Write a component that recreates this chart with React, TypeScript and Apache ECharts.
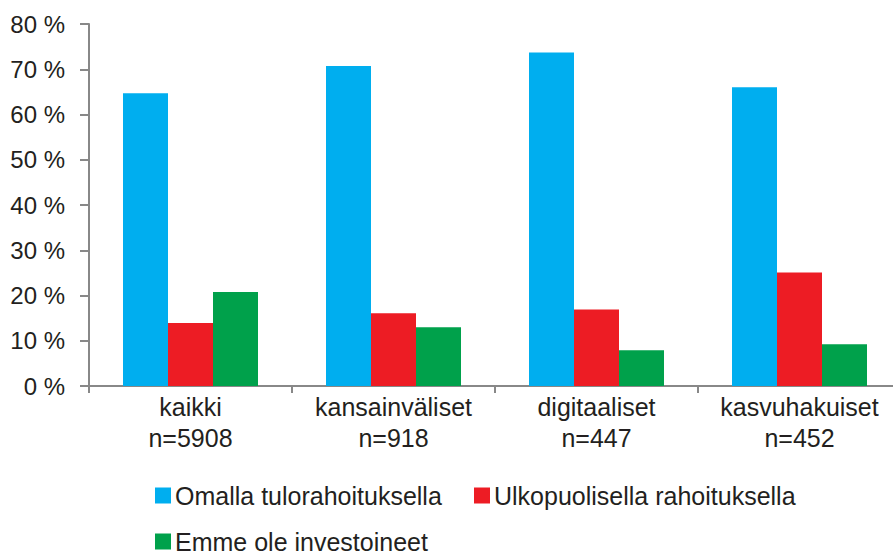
import React, { useEffect, useRef } from "react";
import * as echarts from "echarts";

const categories = ["kaikki\nn=5908", "kansainväliset\nn=918", "digitaaliset\nn=447", "kasvuhakuiset\nn=452"];
const seriesNames = ["Omalla tulorahoituksella", "Ulkopuolisella rahoituksella", "Emme ole investoineet"];
const omalla = [64.7, 70.7, 73.7, 66.0];
const ulkopuolisella = [13.9, 16.1, 16.9, 25.1];
const emme = [20.8, 13.0, 7.9, 9.2];
const colors = ["#00AEEF", "#ED1C24", "#00A14B"];

const FONT = "'Liberation Sans', Arial, sans-serif";
const TEXT = "#231F20";

export default function App() {
  const ref = useRef<HTMLDivElement>(null);
  useEffect(() => {
    if (!ref.current) return;
    const chart = echarts.init(ref.current, undefined, { renderer: "svg" });
    const legendBase = {
      orient: "horizontal" as const,
      icon: "rect",
      itemWidth: 16,
      itemHeight: 16,
      itemGap: 0,
      padding: 0,
      textStyle: { fontFamily: FONT, fontSize: 25, color: TEXT, padding: [0, 0, 0, -1] },
    };
    chart.setOption({
      animation: false,
      textStyle: { fontFamily: FONT },
      grid: { left: 89, top: 24, width: 812, height: 362, containLabel: false, outerBoundsMode: "none" },
      legend: [
        { ...legendBase, left: 155, top: 483, data: [seriesNames[0]] },
        { ...legendBase, left: 474, top: 483, data: [seriesNames[1]] },
        { ...legendBase, left: 155, top: 529, data: [seriesNames[2]] },
      ],
      xAxis: {
        type: "category",
        data: categories,
        axisLine: { lineStyle: { color: "#888888", width: 2 } },
        axisTick: { show: true, length: 7, lineStyle: { color: "#888888", width: 2 } },
        axisLabel: {
          fontFamily: FONT,
          fontSize: 25,
          color: TEXT,
          lineHeight: 31,
          margin: 5,
          interval: 0,
        },
      },
      yAxis: {
        type: "value",
        min: 0,
        max: 80,
        interval: 10,
        splitLine: { show: false },
        axisLine: { show: true, lineStyle: { color: "#888888", width: 2 } },
        axisTick: { show: true, length: 9, lineStyle: { color: "#888888", width: 2 } },
        axisLabel: {
          fontFamily: FONT,
          fontSize: 24,
          color: TEXT,
          margin: 24,
          formatter: "{value} %",
        },
      },
      series: [
        { name: seriesNames[0], type: "bar", data: omalla, barWidth: 45, barGap: "0%", itemStyle: { color: colors[0] } },
        { name: seriesNames[1], type: "bar", data: ulkopuolisella, barWidth: 45, barGap: "0%", itemStyle: { color: colors[1] } },
        { name: seriesNames[2], type: "bar", data: emme, barWidth: 45, barGap: "0%", itemStyle: { color: colors[2] } },
      ],
    });
    return () => chart.dispose();
  }, []);
  return (
    <div
      ref={ref}
      style={{ position: "absolute", left: 0, top: 0, width: 893, height: 554, background: "#ffffff" }}
    />
  );
}
